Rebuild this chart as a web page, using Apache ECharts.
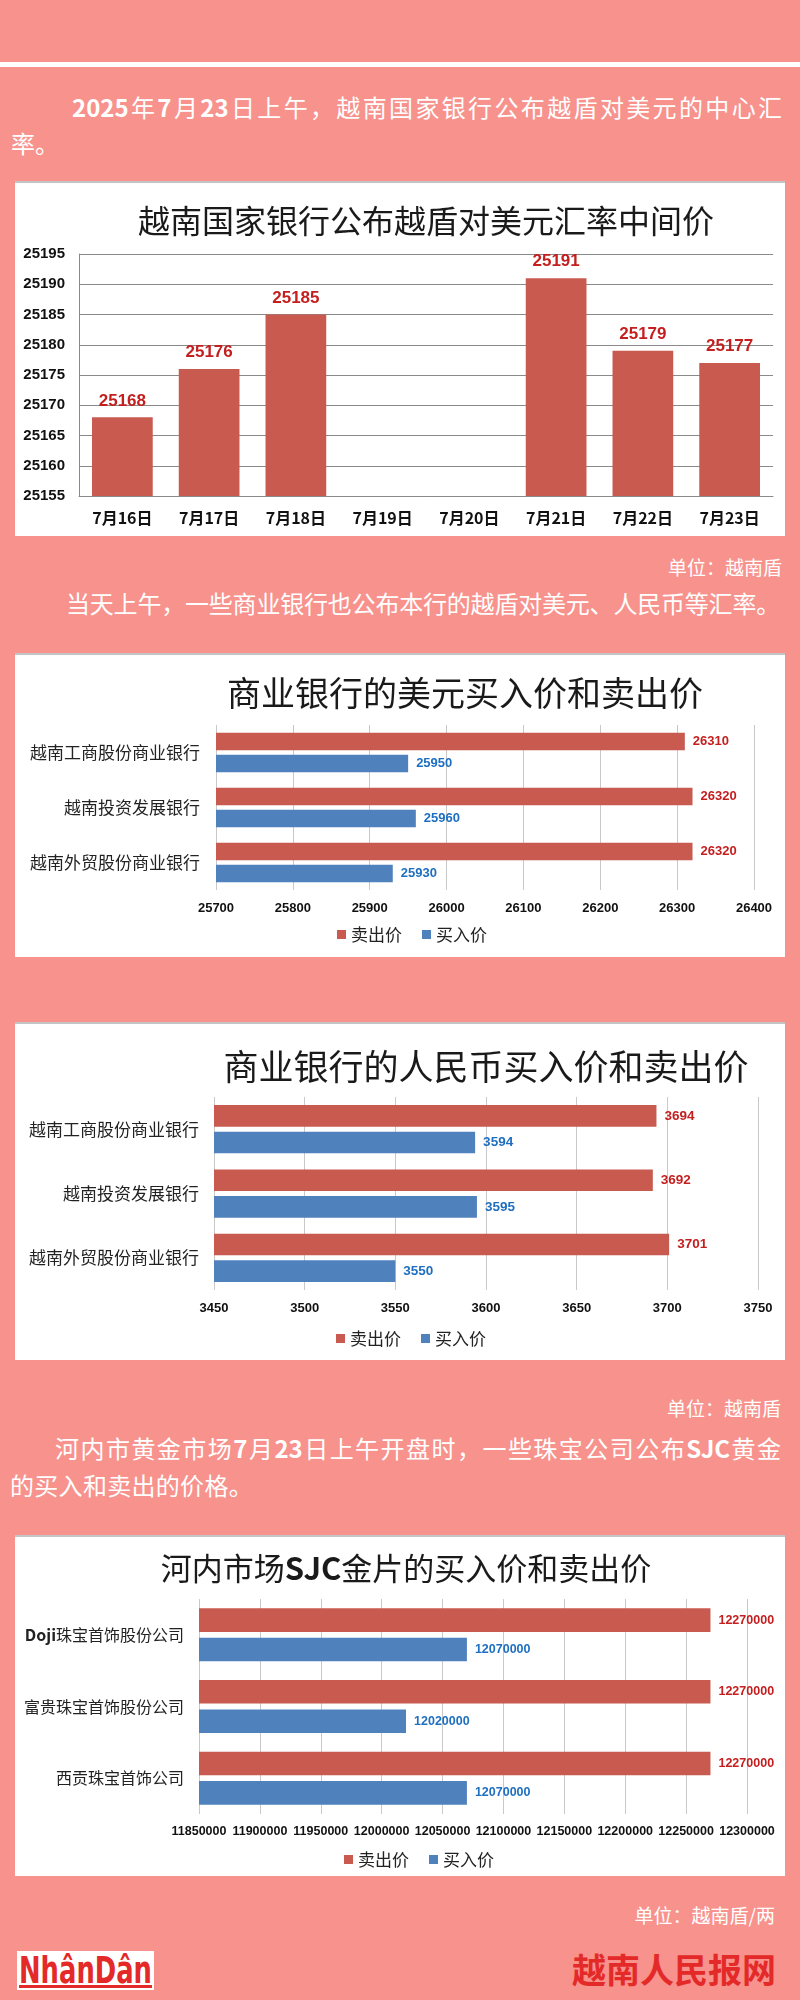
<!DOCTYPE html>
<html>
<head>
<meta charset="utf-8">
<script src="https://cdn.jsdelivr.net/npm/echarts@6/dist/echarts.min.js"></script>
<style>
  html, body { margin: 0; padding: 0; }
  body { width: 800px; height: 2000px; background: #F8928D; position: relative; overflow: hidden;
         font-family: "Noto Sans CJK SC", "Noto Sans", sans-serif; }
  .topline { position: absolute; left: 0; top: 62px; width: 800px; height: 5px; background: #fff; }
  .txt { position: absolute; color: #fff; font-size: 24px; line-height: 30px; white-space: nowrap; }
  .just { text-align: justify; text-align-last: justify; white-space: normal; }
  .unit { position: absolute; color: #fff; font-size: 19px; line-height: 22px; white-space: nowrap; text-align: right; }
  .card { position: absolute; left: 15px; width: 770px; background: #fff; border-top: 2px solid #c4c4c4; box-sizing: border-box; }
  .chart { position: absolute; left: 0; top: 0; width: 770px; }
  .brand { position: absolute; color: #E42A28; font-size: 34px; font-weight: bold; line-height: 40px; white-space: nowrap; }
  .logo { position: absolute; left: 17px; top: 1951px; width: 137px; height: 39px; background: #fff; }
</style>
</head>
<body>
<div class="topline"></div>

<div class="txt just" style="left:72px; top:92px; width:710px;"><b>2025</b>年<b>7</b>月<b>23</b>日上午，越南国家银行公布越盾对美元的中心汇</div>
<div class="txt" style="left:11px; top:128px;">率。</div>

<div class="card" style="top:181px; height:355px;"><div id="c1" class="chart" style="height:355px;"></div></div>

<div class="unit" style="right:18px; top:556px;">单位：越南盾</div>
<div class="txt" style="left:66px; top:588px; letter-spacing:-0.2px;">当天上午，一些商业银行也公布本行的越盾对美元、人民币等汇率。</div>

<div class="card" style="top:653px; height:304px;"><div id="c2" class="chart" style="height:304px;"></div></div>

<div class="card" style="top:1022px; height:338px;"><div id="c3" class="chart" style="height:338px;"></div></div>

<div class="unit" style="right:19px; top:1397px;">单位：越南盾</div>
<div class="txt just" style="left:55px; top:1433px; width:726px;">河内市黄金市场<b>7</b>月<b>23</b>日上午开盘时，一些珠宝公司公布<b>SJC</b>黄金</div>
<div class="txt" style="left:10px; top:1470px; letter-spacing:0.3px;">的买入和卖出的价格。</div>

<div class="card" style="top:1535px; height:341px;"><div id="c4" class="chart" style="height:341px;"></div></div>

<div class="unit" style="right:25px; top:1904px;">单位：越南盾/两</div>

<div class="logo">
  <svg width="137" height="39" viewBox="0 0 137 39">
    <text x="2" y="32" textLength="133" lengthAdjust="spacingAndGlyphs" font-family="DejaVu Sans Condensed, Liberation Sans, sans-serif" font-weight="bold" font-size="38" fill="#E42A28">NhânDân</text>
    <rect x="2" y="34" width="133" height="3" fill="#E42A28"></rect>
  </svg>
</div>
<div class="brand" style="right:24px; top:1949px;">越南人民报网</div>

<script>
// ---------- Data ----------
const title1 = '越南国家银行公布越盾对美元汇率中间价';
const dates = ['7月16日', '7月17日', '7月18日', '7月19日', '7月20日', '7月21日', '7月22日', '7月23日'];
const midRates = [25168, 25176, 25185, null, null, 25191, 25179, 25177];
const midTicks = { min: 25155, max: 25195, interval: 5 };

const legendNames = ['卖出价', '买入价'];
const banks = ['越南工商股份商业银行', '越南投资发展银行', '越南外贸股份商业银行'];

const title2 = '商业银行的美元买入价和卖出价';
const usdSell = [26310, 26320, 26320];
const usdBuy = [25950, 25960, 25930];
const usdTicks = { min: 25700, max: 26400, interval: 100 };

const title3 = '商业银行的人民币买入价和卖出价';
const cnySell = [3694, 3692, 3701];
const cnyBuy = [3594, 3595, 3550];
const cnyTicks = { min: 3450, max: 3750, interval: 50 };

const title4 = '河内市场{b|SJC}金片的买入价和卖出价';
const goldCompanies = ['Doji珠宝首饰股份公司', '富贵珠宝首饰股份公司', '西贡珠宝首饰公司'];
const goldSell = [12270000, 12270000, 12270000];
const goldBuy = [12070000, 12020000, 12070000];
const goldTicks = { min: 11850000, max: 12300000, interval: 50000 };

// ---------- Styles ----------
const CJK = '"Noto Sans CJK SC", "Noto Sans", sans-serif';
const NUM = '"Liberation Sans", Arial, sans-serif';
const RED = '#C85A50';
const BLUE = '#4F81BD';
const RED_LABEL = '#C41E1E';
const BLUE_LABEL = '#1F6FC0';
const plain = v => String(v);

// ---------- Chart 1 ----------
const ch1 = echarts.init(document.getElementById('c1'), null, { renderer: 'canvas' });
ch1.setOption({
  animation: false,
  title: { text: title1, left: 406, top: 17, textAlign: 'center',
           textStyle: { fontFamily: CJK, fontSize: 32, fontWeight: 'normal', color: '#1a1a1a' } },
  grid: { left: 64, right: 12, top: 71, bottom: 42 },
  xAxis: { type: 'category', data: dates,
           axisLine: { lineStyle: { color: '#8a8a8a' } }, axisTick: { show: false },
           axisLabel: { fontFamily: CJK, fontSize: 16, fontWeight: 'bold', color: '#111', margin: 14 } },
  yAxis: { type: 'value', min: midTicks.min, max: midTicks.max, interval: midTicks.interval,
           axisLine: { show: true, lineStyle: { color: '#8a8a8a' } }, axisTick: { show: false },
           splitLine: { lineStyle: { color: '#8a8a8a' } },
           axisLabel: { fontFamily: NUM, fontSize: 15, fontWeight: 'bold', color: '#111', margin: 14, formatter: plain } },
  series: [{ type: 'bar', data: midRates, barCategoryGap: '30%', itemStyle: { color: RED },
             label: { show: true, position: 'top', distance: 8, color: RED_LABEL,
                      fontFamily: NUM, fontSize: 17, fontWeight: 'bold' } }]
});

// ---------- Horizontal charts ----------
function hbar(id, cfg) {
  const ch = echarts.init(document.getElementById(id), null, { renderer: 'canvas' });
  ch.setOption({
    animation: false,
    title: { text: cfg.title, left: cfg.titleX, top: cfg.titleTop, textAlign: 'center',
             textStyle: { fontFamily: CJK, fontSize: cfg.titleSize, fontWeight: 'normal', color: '#1a1a1a',
                          rich: { b: { fontFamily: CJK, fontSize: cfg.titleSize, fontWeight: 'bold', color: '#1a1a1a' } } } },
    legend: { data: legendNames, left: cfg.legendLeft, top: cfg.legendTop, icon: 'rect',
              itemWidth: 9, itemHeight: 9, itemGap: 20,
              textStyle: { fontFamily: CJK, fontSize: 17, color: '#222' } },
    grid: cfg.grid,
    xAxis: { type: 'value', min: cfg.ticks.min, max: cfg.ticks.max, interval: cfg.ticks.interval,
             axisLine: { show: false }, axisTick: { show: false },
             splitLine: { lineStyle: { color: '#c9c9c9' } },
             axisLabel: { fontFamily: NUM, fontSize: cfg.xFont, fontWeight: 'bold', color: '#111', margin: cfg.xMargin, formatter: plain } },
    yAxis: { type: 'category', inverse: true, data: cfg.cats,
             axisLine: { show: false }, axisTick: { show: false },
             axisLabel: { fontFamily: CJK, fontSize: cfg.catFont, color: '#222', margin: cfg.catMargin,
                          formatter: v => v.indexOf('Doji') === 0 ? '{b|Doji}' + v.slice(4) : v,
                          rich: { b: { fontFamily: CJK, fontSize: cfg.catFont, fontWeight: 'bold', color: '#222' } } } },
    series: [
      { name: legendNames[0], type: 'bar', data: cfg.sell, barCategoryGap: cfg.catGap, barGap: cfg.barGap,
        itemStyle: { color: RED },
        label: { show: true, position: 'right', distance: 8, color: RED_LABEL,
                 fontFamily: NUM, fontSize: cfg.valFont, fontWeight: 'bold' } },
      { name: legendNames[1], type: 'bar', data: cfg.buy, barCategoryGap: cfg.catGap, barGap: cfg.barGap,
        itemStyle: { color: BLUE },
        label: { show: true, position: 'right', distance: 8, color: BLUE_LABEL,
                 fontFamily: NUM, fontSize: cfg.valFont, fontWeight: 'bold' } }
    ]
  });
}

hbar('c2', { title: title2, titleX: 445, titleTop: 16, titleSize: 34,
  legendLeft: 317, legendTop: 266,
  grid: { left: 201, right: 31, top: 70, bottom: 69 },
  ticks: usdTicks, xFont: 13, xMargin: 12, cats: banks, catFont: 17, catMargin: 16,
  sell: usdSell, buy: usdBuy, catGap: '28%', barGap: '26%', valFont: 13 });

hbar('c3', { title: title3, titleX: 466, titleTop: 20, titleSize: 35,
  legendLeft: 316, legendTop: 301,
  grid: { left: 199, right: 27, top: 73, bottom: 72 },
  ticks: cnyTicks, xFont: 13, xMargin: 12, cats: banks, catFont: 17, catMargin: 15,
  sell: cnySell, buy: cnyBuy, catGap: '25%', barGap: '23%', valFont: 13.5 });

hbar('c4', { title: title4, titleX: 386, titleTop: 11, titleSize: 31,
  legendLeft: 324, legendTop: 309,
  grid: { left: 184, right: 38, top: 62, bottom: 64 },
  ticks: goldTicks, xFont: 12.5, xMargin: 11, cats: goldCompanies, catFont: 16, catMargin: 15,
  sell: goldSell, buy: goldBuy, catGap: '26%', barGap: '25%', valFont: 12.5 });
</script>
</body>
</html>
